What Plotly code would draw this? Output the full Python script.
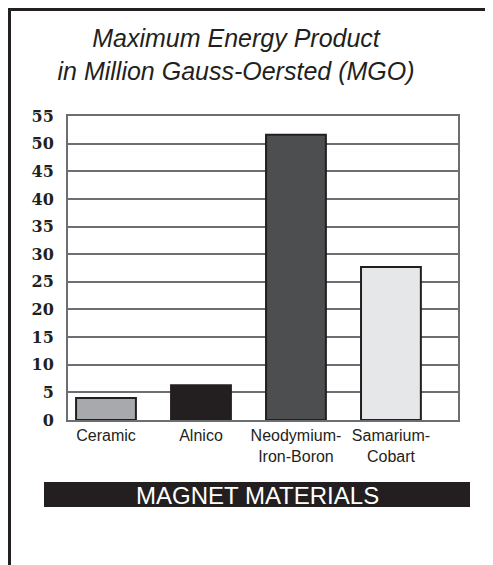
import plotly.graph_objects as go

# ---- data ----
categories = ["Ceramic", "Alnico", "Neodymium-<br>Iron-Boron", "Samarium-<br>Cobart"]
values = [4.0, 6.3, 51.6, 27.7]
bar_colors = ["#a7a9ac", "#231f20", "#4d4e50", "#e6e7e8"]
y_ticks = [0, 5, 10, 15, 20, 25, 30, 35, 40, 45, 50, 55]

OFF = 8                      # page body margin of the browser
W, H = 493 - OFF, 565 - OFF  # figure size
# plot area in page pixels
L, R, T, B = 68, 458, 116, 420


def px_x(px):
    return (px - L) / (R - L)


def px_y(py):
    return (B - py) / (B - T)


fig = go.Figure(
    go.Bar(
        x=categories,
        y=values,
        width=0.63,
        marker=dict(color=bar_colors, line=dict(color="#231f20", width=2)),
    )
)

fig.update_layout(
    width=W,
    height=H,
    margin=dict(l=L - OFF, r=(W + OFF) - R, t=T - OFF, b=(H + OFF) - B),
    paper_bgcolor="white",
    plot_bgcolor="white",
    showlegend=False,
    title=dict(
        text="<i>Maximum Energy Product<br>in Million Gauss-Oersted (MGO)</i>",
        font=dict(family="Liberation Sans, Arial", size=25, color="#231f20"),
        x=(236 - OFF) / W,
        xanchor="center",
        xref="container",
        y=1 - (47 - OFF) / H,
        yanchor="middle",
        yref="container",
    ),
    xaxis=dict(
        type="category",
        range=[-0.40, 3.706],
        showgrid=False,
        showline=True,
        linecolor="#6d6e71",
        linewidth=2,
        mirror=True,
        tickfont=dict(family="Liberation Sans, Arial", size=16, color="#231f20"),
        ticks="",
        fixedrange=True,
    ),
    yaxis=dict(
        range=[0, 55],
        tickvals=y_ticks,
        ticktext=[str(v) for v in y_ticks],
        showgrid=True,
        gridcolor="#6d6e71",
        gridwidth=2,
        zeroline=False,
        showline=True,
        linecolor="#6d6e71",
        linewidth=2,
        mirror=True,
        ticks="",
        ticklabelstandoff=9,
        tickfont=dict(family="DejaVu Serif", size=16, color="#231f20", weight="bold"),
        fixedrange=True,
    ),
    shapes=[
        # outer frame: left and top lines
        dict(type="line", xref="paper", yref="paper",
             x0=px_x(9.5), x1=px_x(9.5), y0=px_y(8), y1=px_y(580),
             line=dict(color="#231f20", width=3)),
        dict(type="line", xref="paper", yref="paper",
             x0=px_x(8), x1=px_x(510), y0=px_y(9.5), y1=px_y(9.5),
             line=dict(color="#231f20", width=3)),
        # black label band
        dict(type="rect", xref="paper", yref="paper",
             x0=px_x(44), x1=px_x(470), y0=px_y(482), y1=px_y(507),
             fillcolor="#231f20", line=dict(width=0), layer="above"),
    ],
    annotations=[
        dict(text="MAGNET MATERIALS", xref="paper", yref="paper",
             x=px_x(257), y=px_y(495), xanchor="center", yanchor="middle",
             showarrow=False,
             font=dict(family="Liberation Sans, Arial", size=24, color="white")),
    ],
)

fig.write_html("out.html")
